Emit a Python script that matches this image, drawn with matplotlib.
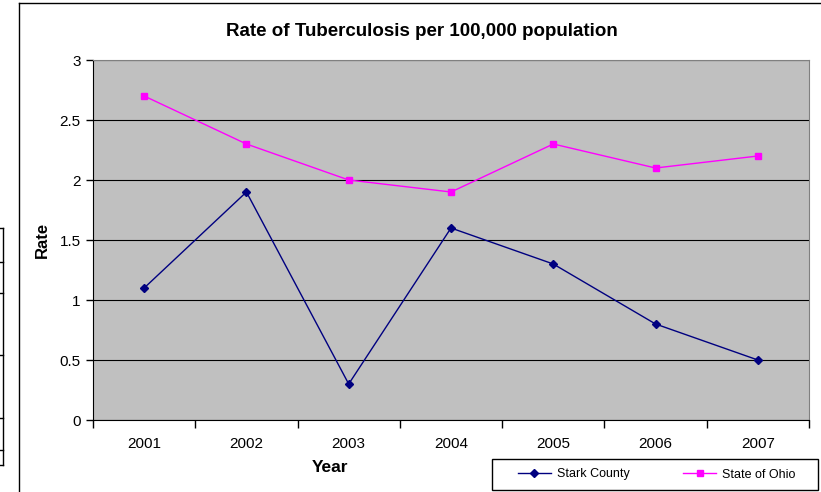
import numpy as np
import matplotlib.pyplot as plt
from matplotlib.lines import Line2D
from matplotlib.patches import Rectangle

years = ['2001', '2002', '2003', '2004', '2005', '2006', '2007']
stark = [1.1, 1.9, 0.3, 1.6, 1.3, 0.8, 0.5]
ohio = [2.7, 2.3, 2.0, 1.9, 2.3, 2.1, 2.2]
yticks = [0, 0.5, 1, 1.5, 2, 2.5, 3]

plt.rcParams['font.family'] = ['Liberation Sans', 'DejaVu Sans']

W, H = 821, 492
fig = plt.figure(figsize=(W / 100, H / 100), dpi=100)

# chart frame and a clipped table edge on the left
fig.add_artist(Line2D([19 / W, 19 / W], [0, 1 - 3 / H], color='black', lw=1))
fig.add_artist(Line2D([19 / W, 1], [1 - 3 / H, 1 - 3 / H], color='black', lw=1))
fig.add_artist(Line2D([3 / W, 3 / W], [1 - 228 / H, 1 - 465 / H], color='black', lw=1))
for yy in [228, 262, 293, 355, 418, 450, 465]:
    fig.add_artist(Line2D([0, 3 / W], [1 - yy / H, 1 - yy / H], color='black', lw=1))

left, right, top, bottom = 93, 809, 60, 420
ax = fig.add_axes([left / W, 1 - bottom / H, (right - left) / W, (bottom - top) / H])
ax.set_facecolor('#C0C0C0')

x = np.arange(len(years))
ax.plot(x, stark, color='#000080', marker='D', markersize=4.5, lw=1, label='Stark County')
ax.plot(x, ohio, color='#FF00FF', marker='s', markersize=5, lw=1, label='State of Ohio')

ax.set_xlim(-0.5, len(years) - 0.5)
ax.set_ylim(0, 3)
ax.set_yticks(yticks)
ax.set_yticklabels(['0', '0.5', '1', '1.5', '2', '2.5', '3'], fontsize=11)
ax.set_xticks(np.arange(-0.5, len(years), 1))
ax.set_xticklabels([])
ax.set_xticks(x, minor=True)
ax.set_xticklabels(years, minor=True, fontsize=11)
ax.tick_params(axis='x', which='major', length=6, direction='out', width=1)
ax.tick_params(axis='x', which='minor', length=0, pad=12)
ax.tick_params(axis='y', length=5, direction='out', width=1, pad=4)
ax.yaxis.grid(True, color='black', lw=0.8)
ax.set_axisbelow(True)
for s in ['top', 'right']:
    ax.spines[s].set_color('#808080')
ax.spines['left'].set_color('black')
ax.spines['bottom'].set_color('black')

fig.text(422 / W, 1 - 32 / H, 'Rate of Tuberculosis per 100,000 population',
         fontsize=13.5, fontweight='bold', ha='center', va='center')
ax.set_ylabel('Rate', fontsize=12, fontweight='bold', labelpad=7)
fig.text(330 / W, 1 - 468 / H, 'Year', fontsize=12.5,
         fontweight='bold', ha='center', va='center')

fig.add_artist(Rectangle((492 / W, 1 - 490 / H), 326 / W, 31 / H, transform=fig.transFigure,
                         facecolor='white', edgecolor='black', lw=1))
leg = fig.legend(loc='center left', bbox_to_anchor=(518 / W, 1 - 474.5 / H),
                 ncol=2, fontsize=9, frameon=False, borderpad=0, borderaxespad=0,
                 handlelength=2.6, handletextpad=0.5, columnspacing=4.3)

fig.savefig('out.png', dpi=100)
